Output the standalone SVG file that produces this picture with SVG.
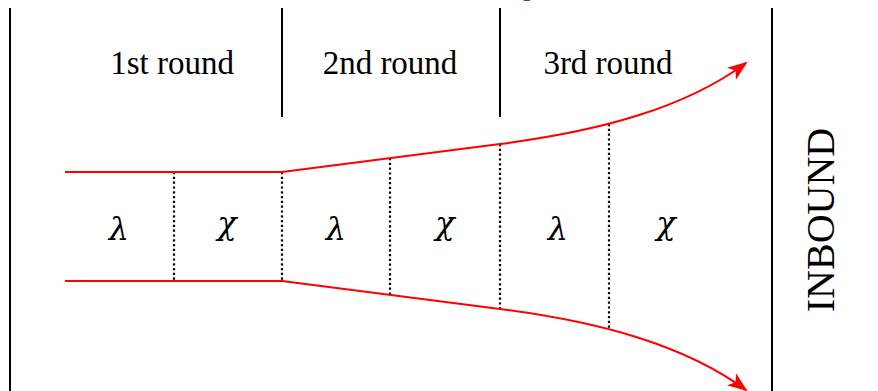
<svg xmlns="http://www.w3.org/2000/svg" width="878" height="391" viewBox="0 0 878 391">
  <defs>
    <style>
      .frame { stroke: #000; stroke-width: 2; fill: none; }
      .div { stroke: #000; stroke-width: 2.2; stroke-dasharray: 2.2 2.6; fill: none; }
      .flow { stroke: #ff0000; stroke-width: 2; fill: none; }
      .lbl { font-family: "Liberation Serif", "DejaVu Serif", serif; font-size: 33px; fill: #000; text-anchor: middle; }
      .sym { font-family: "DejaVu Serif", "Liberation Serif", serif; font-style: italic; font-size: 32px; fill: #000; text-anchor: middle; }
    </style>
    <marker id="arrow" markerUnits="userSpaceOnUse" viewBox="-20 -9 23 18" markerWidth="23" markerHeight="18" refX="0" refY="0" orient="auto">
      <path d="M2,0 L-18,-7.5 L-13,0 L-18,7.5 Z" fill="#ff0000"/>
    </marker>
  </defs>
  <rect width="878" height="391" fill="#fff"/>

  <g id="title-fragment">
    <text x="523" y="-5" font-family="Liberation Serif, serif" font-size="30" fill="#3a3ad0">p</text>
  </g>

  <g id="frame">
    <line class="frame" x1="10" y1="8" x2="10" y2="391"/>
    <line class="frame" x1="282" y1="8" x2="282" y2="117"/>
    <line class="frame" x1="500" y1="8" x2="500" y2="117"/>
    <line class="frame" x1="772" y1="8" x2="772" y2="391"/>
  </g>

  <g id="round1"><text class="lbl" x="172" y="74">1st round</text></g>
  <g id="round2"><text class="lbl" x="390" y="74">2nd round</text></g>
  <g id="round3"><text class="lbl" x="608" y="74">3rd round</text></g>

  <g id="dividers">
    <line class="div" x1="174" y1="172" x2="174" y2="281"/>
    <line class="div" x1="282" y1="172" x2="282" y2="281"/>
    <line class="div" x1="390" y1="158" x2="390" y2="295"/>
    <line class="div" x1="500" y1="144" x2="500" y2="309"/>
    <line class="div" x1="609" y1="124" x2="609" y2="329"/>
  </g>

  <g id="seg1"><text class="sym" x="119" y="240">λ</text></g>
  <g id="seg2"><text class="sym" x="227" y="234">χ</text></g>
  <g id="seg3"><text class="sym" x="336" y="240">λ</text></g>
  <g id="seg4"><text class="sym" x="445" y="234">χ</text></g>
  <g id="seg5"><text class="sym" x="558" y="240">λ</text></g>
  <g id="seg6"><text class="sym" x="666" y="234">χ</text></g>

  <g id="inbound">
    <text x="0" y="0" transform="translate(834,220) rotate(-90)" font-family="Liberation Serif, serif" font-size="40" text-anchor="middle" fill="#000">INBOUND</text>
  </g>

  <g id="connectors">
    <path class="flow" d="M65,172 L282,172 L500,144 C600,131.2 685,108 746,63" marker-end="url(#arrow)"/>
    <path class="flow" d="M65,281 L282,281 L500,309 C600,321.8 685,345 746,390" marker-end="url(#arrow)"/>
  </g>
</svg>
